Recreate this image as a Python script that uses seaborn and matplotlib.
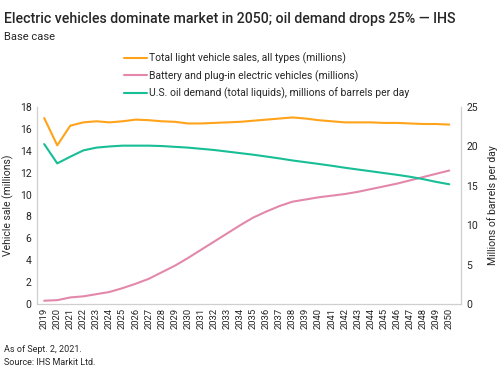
import pandas as pd
import seaborn as sns
import matplotlib.pyplot as plt

# values
years = list(range(2019, 2051))
total_sales = [17.0, 14.5, 16.3, 16.6, 16.7, 16.6, 16.7, 16.85, 16.8, 16.7, 16.65, 16.5,
               16.5, 16.55, 16.6, 16.65, 16.75, 16.85, 16.95, 17.05, 16.95, 16.8, 16.7, 16.6,
               16.6, 16.6, 16.55, 16.55, 16.5, 16.45, 16.45, 16.4]
ev_sales = [0.3, 0.35, 0.6, 0.7, 0.9, 1.1, 1.45, 1.85, 2.3, 2.9, 3.5, 4.2,
            4.95, 5.7, 6.45, 7.2, 7.9, 8.45, 8.95, 9.35, 9.55, 9.75, 9.9, 10.05,
            10.25, 10.5, 10.75, 11.0, 11.3, 11.6, 11.9, 12.2]
oil_demand = [20.3, 17.85, 18.7, 19.5, 19.85, 20.0, 20.1, 20.1, 20.1, 20.05, 19.95, 19.85,
              19.7, 19.55, 19.35, 19.15, 18.95, 18.72, 18.48, 18.22, 18.0, 17.78, 17.55, 17.3,
              17.07, 16.85, 16.62, 16.4, 16.15, 15.85, 15.5, 15.2]

labels = ["Total light vehicle sales, all types (millions)",
          "Battery and plug-in electric vehicles (millions)",
          "U.S. oil demand (total liquids), millions of barrels per day"]
colors = ["#FFA31A", "#E388AA", "#17BE96"]

df = pd.DataFrame({"year": years, "total": total_sales, "ev": ev_sales, "oil": oil_demand})

sns.set_style("white")
plt.rcParams["font.family"] = ["Roboto", "DejaVu Sans"]

fig = plt.figure(figsize=(5, 3.73), dpi=100)
ax = fig.add_axes([0.074, 0.185, 0.848, 0.528])
ax2 = ax.twinx()

sns.lineplot(data=df, x="year", y="total", ax=ax, color=colors[0], linewidth=1.5, label=labels[0], legend=False)
sns.lineplot(data=df, x="year", y="ev", ax=ax, color=colors[1], linewidth=1.5, label=labels[1], legend=False)
sns.lineplot(data=df, x="year", y="oil", ax=ax2, color=colors[2], linewidth=1.5, label=labels[2], legend=False)

ax.set_ylim(0, 18)
ax.set_yticks(range(0, 19, 2))
ax2.set_ylim(0, 25)
ax2.set_yticks(range(0, 26, 5))
ax.set_xlim(2018.45, 2050.9)
ax.set_xticks(years)
ax.set_xticklabels([str(y) for y in years], rotation=90, fontsize=6.8)
ax.tick_params(axis="y", labelsize=7.5, length=0, pad=4)
ax2.tick_params(axis="y", labelsize=7.5, length=0, pad=4)
ax.tick_params(axis="x", length=0, pad=3)
ax.set_xlabel("")
ax.set_ylabel("Vehicle sale (millions)", fontsize=7.5)
ax2.set_ylabel("Millions of barrels per day", fontsize=7.5, labelpad=6)

for a in (ax, ax2):
    a.spines["top"].set_visible(False)
    for s in ("left", "right", "bottom"):
        a.spines[s].set_color("#cfcfcf")
        a.spines[s].set_linewidth(0.8)

handles = ax.get_lines()[:2] + ax2.get_lines()[:1]
fig.legend(handles, labels, loc="upper left", bbox_to_anchor=(0.23, 0.885), frameon=False,
           fontsize=7.5, handlelength=2.2, handletextpad=0.2, labelspacing=0.6)

fig.text(0.008, 0.938, "Electric vehicles dominate market in 2050; oil demand drops 25% \u2014 IHS",
         fontsize=10.2, fontweight="medium")
fig.text(0.008, 0.893, "Base case", fontsize=8)
fig.text(0.008, 0.055, "As of Sept. 2, 2021.", fontsize=6.5)
fig.text(0.008, 0.022, "Source: IHS Markit Ltd.", fontsize=6.5)

plt.savefig("out.png", dpi=100)
